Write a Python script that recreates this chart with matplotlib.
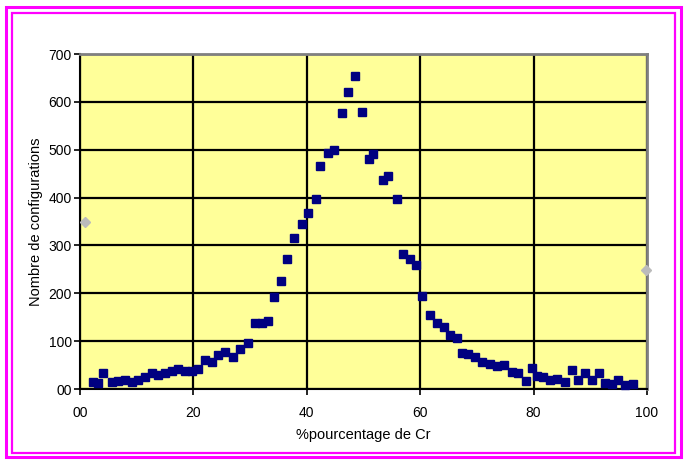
import matplotlib
matplotlib.use("Agg")
import matplotlib.pyplot as plt
from matplotlib.patches import Rectangle
from matplotlib import font_manager

# ---- data ----
pct_cr = [2.3, 3.2, 4.1, 5.6, 6.7, 7.9, 9.2, 10.2, 11.5, 12.7, 13.8, 15.0, 16.2, 17.3,
          18.5, 19.8, 20.8, 22.0, 23.3, 24.3, 25.6, 27.0, 28.2, 29.6, 30.9, 32.1, 33.2,
          34.2, 35.4, 36.5, 37.7, 39.1, 40.2, 41.6, 42.3, 43.7, 44.8, 46.2, 47.3, 48.5,
          49.7, 51.0, 51.7, 53.4, 54.3, 55.9, 57.0, 58.2, 59.3, 60.3, 61.7, 63.0, 64.2,
          65.3, 66.5, 67.4, 68.4, 69.7, 70.9, 72.3, 73.5, 74.8, 76.2, 77.2, 78.7, 79.7,
          80.6, 81.7, 82.9, 84.1, 85.5, 86.8, 87.8, 89.0, 90.3, 91.5, 92.6, 93.8, 94.9,
          96.1, 97.5]
n_config = [15, 13, 33, 15, 17, 19, 15, 19, 25, 33, 29, 33, 38, 42,
            38, 38, 42, 61, 56, 71, 77, 67, 84, 96, 138, 138, 142,
            192, 225, 271, 315, 344, 367, 397, 466, 493, 499, 576, 620, 655,
            578, 480, 492, 436, 445, 397, 282, 271, 259, 194, 154, 138, 129,
            113, 107, 75, 73, 67, 56, 52, 48, 50, 35, 33, 17, 44,
            27, 25, 19, 21, 15, 40, 19, 33, 19, 33, 13, 10, 19,
            8, 10]

x_ticks = [0, 20, 40, 60, 80, 100]
x_tick_labels = ["00", "20", "40", "60", "80", "100"]
y_ticks = [0, 100, 200, 300, 400, 500, 600, 700]
y_tick_labels = ["00", "100", "200", "300", "400", "500", "600", "700"]
x_label = "%pourcentage de Cr"
y_label = "Nombre de configurations"

# ---- fonts ----
avail = {f.name for f in font_manager.fontManager.ttflist}
fams = [f for f in ["Liberation Sans Narrow", "Liberation Sans", "DejaVu Sans"] if f in avail]
plt.rcParams["font.family"] = fams

W, H = 684, 461
fig = plt.figure(figsize=(W / 100, H / 100), dpi=100)
fig.patch.set_facecolor("white")

left, right, top, bottom = 80, 647, 54, 389
ax = fig.add_axes([left / W, 1 - bottom / H, (right - left) / W, (bottom - top) / H])
ax.set_facecolor("#FFFF99")
ax.set_xlim(0, 100)
ax.set_ylim(0, 700)

ax.set_xticks(x_ticks)
ax.set_xticklabels(x_tick_labels, fontsize=10)
ax.set_yticks(y_ticks)
ax.set_yticklabels(y_tick_labels, fontsize=10)
ax.tick_params(axis="both", direction="out", length=4, width=1.2, color="black", pad=8)
ax.tick_params(axis="y", pad=2)

ax.grid(True, color="black", linewidth=1.6)
ax.set_axisbelow(True)

for s in ["left", "bottom"]:
    ax.spines[s].set_color("black")
    ax.spines[s].set_linewidth(1.5)
for s in ["top", "right"]:
    ax.spines[s].set_color("#808080")
    ax.spines[s].set_linewidth(2)

ax.plot(pct_cr, n_config, linestyle="none", marker="s", markersize=6,
        color="#000080", markeredgecolor="#000080", zorder=3, clip_on=False)

ax.set_xlabel(x_label, fontsize=10.5, labelpad=6)
ax.set_ylabel(y_label, fontsize=10.5, labelpad=4)

# Excel selection handles
fig.patches.append(Rectangle((0, 0), 0, 0))
fig.lines.append(plt.Line2D([85 / W], [1 - 222 / H], marker="D", markersize=5,
                            color="#BBBBBB", transform=fig.transFigure, linestyle="none"))
fig.lines.append(plt.Line2D([646 / W], [1 - 270 / H], marker="D", markersize=5,
                            color="#BBBBBB", transform=fig.transFigure, linestyle="none"))

# magenta double border
fig.patches.append(Rectangle((6 / W, 1 - 457 / H), (681 - 6) / W, (457 - 7) / H,
                             transform=fig.transFigure, fill=False,
                             edgecolor="#FF00FF", linewidth=2.2))
fig.patches.append(Rectangle((12 / W, 1 - 453 / H), (675 - 12) / W, (453 - 13) / H,
                             transform=fig.transFigure, fill=False,
                             edgecolor="#FF00FF", linewidth=1.6))

fig.savefig("out.png", dpi=100)
